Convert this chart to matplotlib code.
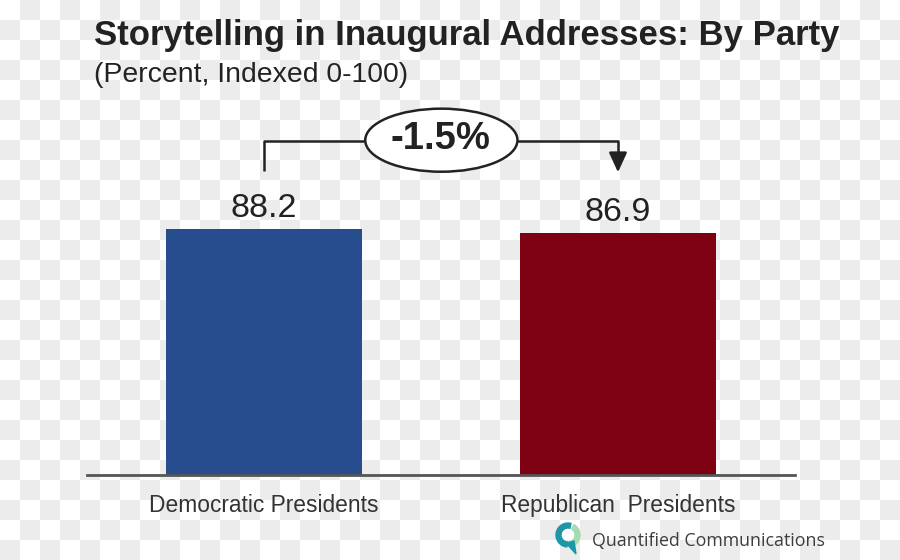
import numpy as np
import matplotlib
matplotlib.use("Agg")
import matplotlib.pyplot as plt
from matplotlib.patches import Ellipse, Wedge, Polygon

categories = ["Democratic Presidents", "Republican  Presidents"]
values = [88.2, 86.9]
bar_colors = ["#274D8E", "#7D0013"]
change_label = "-1.5%"

title = "Storytelling in Inaugural Addresses: By Party"
subtitle = "(Percent, Indexed 0-100)"
brand = "Quantified Communications"

plt.rcParams["font.family"] = ["Liberation Sans", "DejaVu Sans"]

fig = plt.figure(figsize=(9, 5.6), dpi=100)

# background checkerboard (transparency pattern of the source image)
bg = fig.add_axes([0, 0, 1, 1], zorder=0)
rows, cols = 28, 45
board = (np.add.outer(np.arange(rows), np.arange(cols)) % 2).astype(float)
bg.imshow(board, cmap=matplotlib.colors.ListedColormap(["#ffffff", "#ececec"]),
          extent=[0, 900, 560, 0], interpolation="nearest", aspect="auto")
bg.set_xlim(0, 900)
bg.set_ylim(560, 0)
bg.axis("off")

# title
fig.text(94 / 900, 1 - 45 / 560, title, fontsize=25, fontweight="bold",
         color="#222222", va="baseline", ha="left")
fig.text(94 / 900, 1 - 82 / 560, subtitle, fontsize=20.4,
         color="#222222", va="baseline", ha="left")

# main chart
ax = fig.add_axes([87 / 900, 85 / 560, 708 / 900, 279 / 560], zorder=1)
ax.patch.set_alpha(0)
x = np.arange(len(categories))
bars = ax.bar(x, values, width=0.555, color=bar_colors)
ax.set_xlim(-0.5, 1.5)
ax.set_ylim(0, 100)
ax.set_xticks(x)
ax.set_xticklabels(categories, fontsize=16.4, color="#333333")
ax.tick_params(axis="x", length=0, pad=14)
ax.set_yticks([])
for s in ["top", "right", "left"]:
    ax.spines[s].set_visible(False)
ax.spines["bottom"].set_color("#555555")
ax.spines["bottom"].set_linewidth(2)

for xi, v in zip(x, values):
    ax.annotate(f"{v}", (xi, v), xytext=(0, 8.5), textcoords="offset points",
                ha="center", va="baseline", fontsize=24.5, color="#222222")

# change bracket
y_line = 119.7
ax.plot([x[0], x[0], 0.285], [109, y_line, y_line], color="#222222", lw=1.8,
        clip_on=False, solid_capstyle="butt")
ax.plot([0.715, x[1], x[1]], [y_line, y_line, 114], color="#222222", lw=1.8,
        clip_on=False, solid_capstyle="butt")
ax.annotate("", xy=(x[1], 107.5), xytext=(x[1], 115),
            arrowprops=dict(arrowstyle="-|>,head_length=1.2,head_width=0.55",
                            color="#222222", lw=1.8), annotation_clip=False)
ax.add_patch(Ellipse((0.501, 120), 0.43, 22.6, facecolor="white",
                     edgecolor="#222222", lw=1.8, clip_on=False))
ax.text(0.498, 120.3, change_label, ha="center", va="center", fontsize=27.5,
        fontweight="bold", color="#222222")

# brand logo
bg.add_patch(Wedge((568, 535), 12, 95, 285, width=5, color="#1C97A6"))
bg.add_patch(Wedge((568, 535), 12, -60, 70, width=5, color="#A4DBB0"))
bg.add_patch(Polygon([[566, 543], [574, 541], [576, 554]], closed=True,
                     color="#1C97A6"))
fig.text(592 / 900, 1 - 546 / 560, brand, fontsize=12.8, family="Open Sans",
         color="#3d3d3d", va="baseline", ha="left")

fig.savefig("out.png", dpi=100)
